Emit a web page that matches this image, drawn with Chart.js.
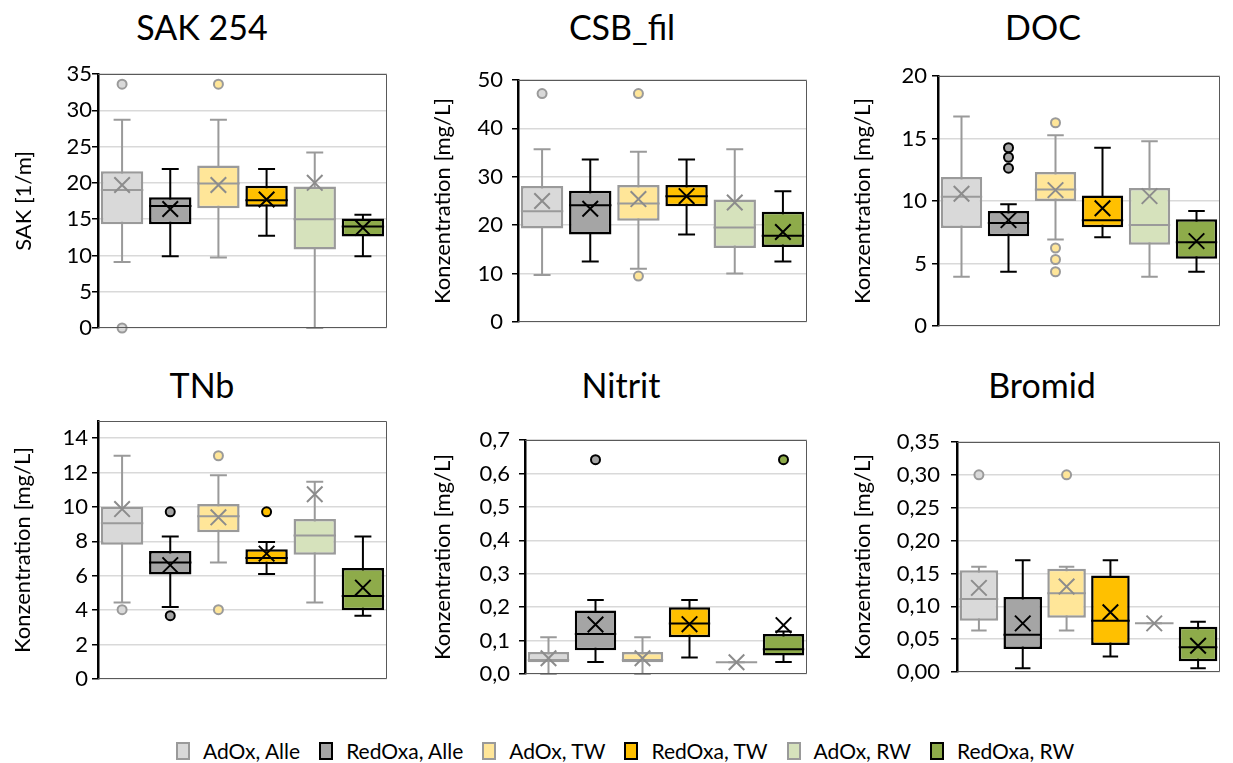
<!DOCTYPE html>
<html>
<head>
<meta charset="utf-8">
<script src="https://cdn.jsdelivr.net/npm/chart.js@4.4.0/dist/chart.umd.min.js"></script>
<style>
  body { margin: 0; background: #fff; width: 1233px; height: 763px; position: relative; overflow: hidden; font-family: Lato, sans-serif; }
  canvas { position: absolute; }
  .title { position: absolute; font-size: 34px; line-height: 1; color: #000; transform: translateX(-50%); white-space: nowrap; }
  #legend { position: absolute; left: 176px; top: 739px; display: flex; align-items: center; font-size: 21px; line-height: 24px; color: #000; }
  .item { display: flex; align-items: center; margin-right: 19px; }
  .sw { width: 10px; height: 14px; border: 2px solid; margin-right: 13px; }
</style>
</head>
<body>
<div class="title" style="left:202px;top:10px">SAK 254</div>
<div class="title" style="left:622px;top:10px">CSB_fil</div>
<div class="title" style="left:1043px;top:10px">DOC</div>
<div class="title" style="left:202px;top:368px">TNb</div>
<div class="title" style="left:621px;top:368px">Nitrit</div>
<div class="title" style="left:1042px;top:368px">Bromid</div>

<canvas id="c1" width="400" height="282" style="left:0;top:60px"></canvas>
<canvas id="c2" width="410" height="282" style="left:410px;top:60px"></canvas>
<canvas id="c3" width="403" height="282" style="left:830px;top:60px"></canvas>
<canvas id="c4" width="400" height="288" style="left:0;top:406px"></canvas>
<canvas id="c5" width="410" height="274" style="left:410px;top:420px"></canvas>
<canvas id="c6" width="403" height="274" style="left:830px;top:420px"></canvas>

<div id="legend"></div>

<script>
const categories = ['AdOx, Alle', 'RedOxa, Alle', 'AdOx, TW', 'RedOxa, TW', 'AdOx, RW', 'RedOxa, RW'];

// each box: [min, q1, median, q3, max]
const sakBoxes = [
  [9.1, 14.3, 19.0, 21.6, 28.7],
  [9.9, 14.3, 16.8, 18.0, 21.9],
  [9.7, 16.5, 19.9, 22.4, 28.7],
  [12.7, 16.7, 17.6, 19.6, 21.9],
  [0.0, 10.8, 15.0, 19.5, 24.2],
  [9.9, 12.6, 14.0, 15.1, 15.6]
];
const sakMeans = [19.7, 16.4, 19.7, 17.7, 20.0, 13.8];
const sakOutliers = [[33.6, 0], [], [33.6], [], [], []];

const csbBoxes = [
  [9.7, 19.3, 22.9, 28.1, 35.7],
  [12.5, 18.1, 24.1, 27.1, 33.6],
  [11.0, 20.9, 24.5, 28.3, 35.2],
  [18.1, 23.9, 26.0, 28.3, 33.6],
  [10.0, 15.3, 19.5, 25.3, 35.7],
  [12.5, 15.5, 17.8, 22.8, 27.0]
];
const csbMeans = [25.0, 23.4, 25.4, 26.0, 24.7, 18.6];
const csbOutliers = [[47.2], [], [47.2, 9.5], [], [], []];

const docBoxes = [
  [3.95, 7.84, 10.34, 11.92, 16.76],
  [4.34, 7.18, 8.24, 9.21, 9.74],
  [6.92, 10.0, 10.92, 12.32, 15.26],
  [7.1, 7.9, 8.47, 10.45, 14.26],
  [3.95, 6.5, 8.08, 11.05, 14.79],
  [4.34, 5.39, 6.71, 8.55, 9.21]
];
const docMeans = [10.58, 8.47, 10.87, 9.42, 10.39, 6.79];
const docOutliers = [[], [14.26, 13.5, 12.63], [16.26, 6.24, 5.32, 4.34], [], [], []];

const tnbBoxes = [
  [4.45, 7.81, 9.05, 10.01, 12.98],
  [4.18, 6.08, 6.77, 7.44, 8.29],
  [6.77, 8.53, 9.46, 10.17, 11.85],
  [6.1, 6.67, 7.04, 7.54, 7.96],
  [4.45, 7.23, 8.34, 9.3, 11.47],
  [3.68, 3.99, 4.83, 6.46, 8.29]
];
const tnbMeans = [9.88, 6.62, 9.4, 7.29, 10.74, 5.31];
const tnbOutliers = [[4.03], [9.72, 3.68], [12.98, 4.03], [9.72], [], []];

const nitritBoxes = [
  [0.0, 0.035, 0.042, 0.066, 0.110],
  [0.036, 0.071, 0.120, 0.190, 0.221],
  [0.0, 0.035, 0.042, 0.066, 0.110],
  [0.049, 0.110, 0.151, 0.200, 0.221],
  [0.035, 0.035, 0.035, 0.035, 0.035],
  [0.036, 0.055, 0.074, 0.120, 0.127]
];
const nitritMeans = [0.047, 0.148, 0.047, 0.149, 0.035, 0.146];
const nitritOutliers = [[], [0.641], [], [], [], [0.641]];

const bromidBoxes = [
  [0.063, 0.078, 0.111, 0.155, 0.160],
  [0.0057, 0.035, 0.0565, 0.114, 0.170],
  [0.063, 0.0824, 0.120, 0.157, 0.160],
  [0.0236, 0.041, 0.078, 0.147, 0.170],
  [0.074, 0.074, 0.074, 0.074, 0.074],
  [0.0057, 0.0165, 0.0377, 0.069, 0.0763]
];
const bromidMeans = [0.128, 0.074, 0.130, 0.091, 0.074, 0.040];
const bromidOutliers = [[0.30], [], [0.30], [], [], []];

// styling per category
const boxFill = ['#d9d9d9', '#a5a5a5', '#ffe699', '#ffc000', '#d6e2bc', '#8eab4a'];
const boxLine = ['#9a9a9a', '#000000', '#9a9a9a', '#000000', '#9a9a9a', '#000000'];

const panels = [
  { id: 'c1', boxes: sakBoxes, means: sakMeans, outliers: sakOutliers, max: 35, step: 5, dec: 0, yTitle: 'SAK [1/m]',
    axisW: 98, pad: { top: 14, right: 2, bottom: 14 }, tickPad: 0, titlePad: 11 },
  { id: 'c2', boxes: csbBoxes, means: csbMeans, outliers: csbOutliers, max: 50, step: 10, dec: 0, yTitle: 'Konzentration [mg/L]',
    axisW: 108, pad: { top: 14, right: 3, bottom: 14 }, tickPad: 9, titlePad: 20 },
  { id: 'c3', boxes: docBoxes, means: docMeans, outliers: docOutliers, max: 20, step: 5, dec: 0, yTitle: 'Konzentration [mg/L]',
    axisW: 108, pad: { top: 14, right: 1, bottom: 14 }, tickPad: 5, titlePad: 20 },
  { id: 'c4', boxes: tnbBoxes, means: tnbMeans, outliers: tnbOutliers, max: 15, step: 2, dec: 0, yTitle: 'Konzentration [mg/L]',
    axisW: 98, pad: { top: 15, right: 4, bottom: 12 }, tickPad: 4, titlePad: 10 },
  { id: 'c5', boxes: nitritBoxes, means: nitritMeans, outliers: nitritOutliers, max: 0.7, step: 0.1, dec: 1, yTitle: 'Konzentration [mg/L]',
    axisW: 115, pad: { top: 14, right: 3, bottom: 12 }, tickPad: 9, titlePad: 20 },
  { id: 'c6', boxes: bromidBoxes, means: bromidMeans, outliers: bromidOutliers, max: 0.35, step: 0.05, dec: 2, yTitle: 'Konzentration [mg/L]',
    axisW: 127, pad: { top: 14, right: 1, bottom: 12 }, tickPad: 11, titlePad: 20 }
];

Chart.defaults.font.family = 'Lato';
Chart.defaults.color = '#000';

// whiskers behind the box, median on top of it, frame round the plot
const boxPlotPlugin = {
  id: 'boxPlot',
  beforeDatasetDraw(chart, args) {
    if (args.meta.type !== 'bar') return;
    const stats = chart.data.datasets[args.index].stats;
    const y = chart.scales.y;
    const ctx = chart.ctx;
    args.meta.data.forEach((bar, i) => {
      const s = stats[i];
      const half = bar.width * 0.2;
      ctx.save();
      ctx.strokeStyle = boxLine[i];
      ctx.lineWidth = 2;
      ctx.beginPath();
      ctx.moveTo(bar.x, y.getPixelForValue(s[0]));
      ctx.lineTo(bar.x, y.getPixelForValue(s[4]));
      [s[0], s[4]].forEach(v => {
        const py = y.getPixelForValue(v);
        ctx.moveTo(bar.x - half, py);
        ctx.lineTo(bar.x + half, py);
      });
      ctx.stroke();
      ctx.restore();
    });
  },
  afterDatasetDraw(chart, args) {
    if (args.meta.type !== 'bar') return;
    const stats = chart.data.datasets[args.index].stats;
    const y = chart.scales.y;
    const ctx = chart.ctx;
    args.meta.data.forEach((bar, i) => {
      const py = y.getPixelForValue(stats[i][2]);
      ctx.save();
      ctx.strokeStyle = boxLine[i];
      ctx.lineWidth = 2;
      ctx.beginPath();
      ctx.moveTo(bar.x - bar.width / 2, py);
      ctx.lineTo(bar.x + bar.width / 2, py);
      ctx.stroke();
      ctx.restore();
    });
  },
  afterDraw(chart) {
    const a = chart.chartArea;
    const ctx = chart.ctx;
    ctx.save();
    ctx.strokeStyle = '#595959';
    ctx.lineWidth = 1;
    ctx.beginPath();
    ctx.moveTo(a.left, a.top + 0.5);
    ctx.lineTo(a.right - 0.5, a.top + 0.5);
    ctx.lineTo(a.right - 0.5, a.bottom - 0.5);
    ctx.lineTo(a.left, a.bottom - 0.5);
    ctx.stroke();
    ctx.restore();
  }
};

function createBoxChart(p) {
  const outlierPoints = [];
  const outFill = [];
  const outLine = [];
  p.outliers.forEach((vals, i) => {
    vals.forEach(v => {
      outlierPoints.push({ x: categories[i], y: v });
      outFill.push(boxFill[i]);
      outLine.push(boxLine[i]);
    });
  });

  const ctx = document.getElementById(p.id).getContext('2d');
  return new Chart(ctx, {
    type: 'bar',
    data: {
      labels: categories,
      datasets: [{
        type: 'line',
        label: 'Mittelwert',
        data: p.means,
        showLine: false,
        pointStyle: 'crossRot',
        pointRadius: 11,
        pointBorderWidth: 2,
        pointBorderColor: boxLine.map(c => c === '#000000' ? '#000000' : '#8c8c8c'),
        pointBackgroundColor: 'rgba(0,0,0,0)',
        clip: false,
        order: 0
      }, {
        type: 'line',
        label: 'Ausreißer',
        data: outlierPoints,
        showLine: false,
        pointStyle: 'circle',
        pointRadius: 4.5,
        pointBorderWidth: 2,
        pointBackgroundColor: outFill,
        pointBorderColor: outLine,
        clip: false,
        order: 1
      }, {
        type: 'bar',
        label: 'Box',
        data: p.boxes.map(b => [b[1], b[3]]),
        stats: p.boxes,
        backgroundColor: boxFill,
        borderColor: boxLine,
        borderWidth: 2.5,
        borderSkipped: false,
        categoryPercentage: 1,
        barPercentage: 0.88,
        order: 2
      }]
    },
    options: {
      responsive: false,
      animation: false,
      events: [],
      layout: { padding: { left: 0, top: p.pad.top, right: p.pad.right, bottom: p.pad.bottom } },
      plugins: {
        legend: { display: false },
        tooltip: { enabled: false }
      },
      scales: {
        x: { display: false },
        y: {
          min: 0,
          max: p.max,
          ticks: {
            stepSize: p.step,
            includeBounds: false,
            padding: p.tickPad,
            color: '#000',
            font: { size: 22, lineHeight: 1 },
            callback: v => v.toFixed(p.dec).replace('.', ',')
          },
          grid: { color: '#d9d9d9', lineWidth: 1.5, tickLength: 6, tickColor: '#000' },
          border: { color: '#000', width: 2.5 },
          title: {
            display: true,
            text: p.yTitle,
            color: '#000',
            font: { size: 22 },
            padding: { top: p.titlePad, bottom: 0 }
          },
          afterFit: scale => { scale.width = p.axisW; }
        }
      }
    },
    plugins: [boxPlotPlugin]
  });
}

panels.forEach(createBoxChart);

// legend below the panels
const legend = document.getElementById('legend');
categories.forEach((name, i) => {
  const item = document.createElement('div');
  item.className = 'item';
  item.innerHTML = '<span class="sw" style="background:' + boxFill[i] + ';border-color:' + boxLine[i] + '"></span>' + name;
  legend.appendChild(item);
});
</script>
</body>
</html>
